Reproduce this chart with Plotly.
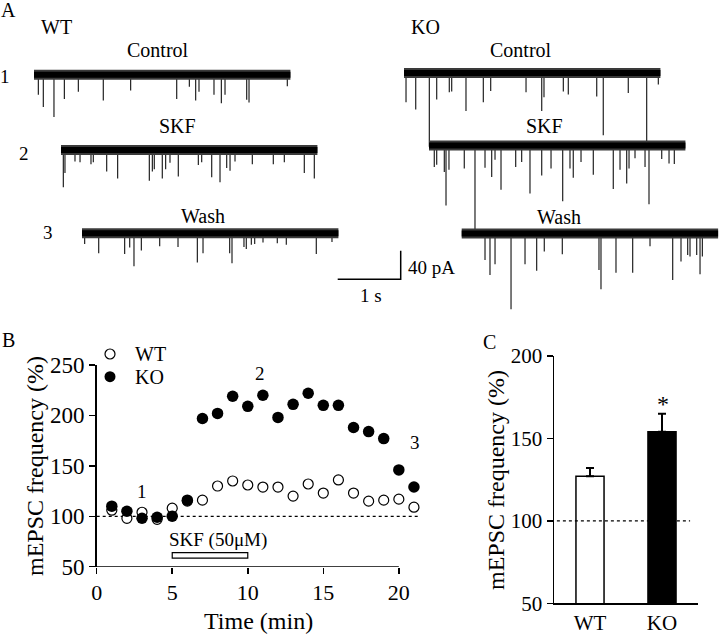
import plotly.graph_objects as go

W, H = 720, 635
FONT = "Liberation Serif"

# ---------------- Panel B data (time course, % of baseline) ----------------
time_min = list(range(1, 22))
wt_freq = [106, 98, 104, 97, 108, 115, 116, 130, 135, 131, 129, 129, 120, 132,
           123, 136, 123, 115, 116, 117, 109]
ko_freq = [110, 105, 98, 99, 100, 116, 197, 202, 219, 209, 220, 198, 211, 222,
           210, 210, 188, 184, 177, 146, 129]
x_ticks_b = [0, 5, 10, 15, 20]
y_ticks_b = [50, 100, 150, 200, 250]
skf_start, skf_end = 5, 10

# ---------------- Panel C data (summary bars) ----------------
groups = ["WT", "KO"]
group_mean = [127, 154]
group_sem = [5, 11]
y_ticks_c = [50, 100, 150, 200]

# ---------------- Panel A data (mEPSC events: time in s from trace start, amplitude in pA) ----
trace_duration = 4.07
wt_control_t = [0.069, 0.148, 0.317, 0.482, 0.704, 1.10, 1.534, 2.265, 2.466, 2.566, 2.619,
                2.857, 2.974, 3.032, 3.376, 3.413, 4.021]
wt_control_amp = [28, 45, 59, 34, 24, 36, 22, 34, 17, 36, 24, 28, 40, 28, 35, 39, 16]
wt_skf_t = [0.037, 0.063, 0.222, 0.302, 0.476, 0.513, 0.725, 0.899, 1.402, 1.45, 1.481, 1.608,
            1.661, 1.73, 1.862, 2.18, 2.233, 2.392, 2.524, 2.63, 2.683, 2.762, 3.037, 3.37,
            3.545, 3.862, 4.021]
wt_skf_amp = [52, 32, 16, 17, 20, 17, 30, 40, 43, 30, 27, 40, 27, 18, 37, 21, 17, 38, 45, 25,
              29, 16, 20, 20, 17, 32, 40]
wt_wash_t = [0.042, 0.265, 0.677, 0.757, 0.825, 0.942, 1.233, 1.524, 1.831, 1.921, 2.344,
             2.381, 2.571, 2.608, 2.688, 2.741, 2.873, 3.10, 3.243, 3.719, 3.968]
wt_wash_amp = [15, 28, 29, 20, 46, 24, 18, 19, 41, 28, 28, 42, 19, 22, 16, 15, 13, 14, 16, 29, 12]
ko_control_t = [0.032, 0.186, 0.402, 0.519, 0.719, 0.757, 0.984, 1.259, 1.376, 1.937, 2.186,
                2.222, 2.529, 2.608, 3.059, 3.163, 3.56, 3.852, 4.037]
ko_control_amp = [41, 51, 103, 37, 27, 26, 53, 41, 25, 27, 53, 34, 26, 30, 33, 87, 28, 96, 16]
ko_skf_t = [0.084, 0.122, 0.243, 0.27, 0.317, 0.56, 0.73, 0.889, 0.995, 1.048, 1.143, 1.376,
            1.471, 1.603, 1.789, 1.937, 2.122, 2.238, 2.29, 2.413, 2.608, 2.925, 3.032, 3.138,
            3.175, 3.27, 3.429, 3.492, 3.694, 3.81, 3.894]
ko_skf_amp = [30, 27, 37, 84, 34, 32, 121, 31, 44, 20, 62, 30, 23, 67, 42, 32, 78, 32, 45, 23,
              41, 61, 34, 53, 32, 18, 30, 82, 19, 25, 26]
ko_wash_t = [0.37, 0.449, 0.529, 0.783, 1.005, 1.19, 1.311, 1.597, 2.179, 2.211, 2.449, 2.714,
             2.989, 3.349, 3.481, 3.587, 3.624, 3.73, 3.783, 3.82]
ko_wash_amp = [37, 58, 43, 106, 43, 52, 25, 29, 51, 78, 55, 55, 18, 65, 39, 30, 32, 30, 57, 32]
scale_time_s = 1.0
scale_current_pa = 40.0

# ---------------- layout helpers (pixel geometry) ----------------
def px(x):
    return x / W

def py(y):
    return 1 - y / H

PX_PER_S = 63.0
PX_PER_PA = 0.715
A_HEIGHT = 320

def a_x(xpix):
    return xpix / PX_PER_S

def a_y(ypix):
    return -ypix / PX_PER_PA

# trace origins (pixel positions) -> converted to axis units
trace_specs = [
    (wt_control_t, wt_control_amp, 34, 74.7),
    (wt_skf_t, wt_skf_amp, 61, 150.0),
    (wt_wash_t, wt_wash_amp, 82, 233.3),
    (ko_control_t, ko_control_amp, 404, 73.0),
    (ko_skf_t, ko_skf_amp, 429, 145.5),
    (ko_wash_t, ko_wash_amp, 461.7, 233.5),
]

fig = go.Figure()

for t_list, amp_list, x0p, y0p in trace_specs:
    x0, y0 = a_x(x0p), a_y(y0p)
    xs, ys = [], []
    for t, a in zip(t_list, amp_list):
        xs += [x0 + t, x0 + t, None]
        ys += [y0, y0 - a, None]
    fig.add_trace(go.Scatter(x=xs, y=ys, mode="lines", line=dict(color="#222222", width=1.2),
                             xaxis="x", yaxis="y", showlegend=False, hoverinfo="skip"))
    fig.add_trace(go.Scatter(x=[x0, x0 + trace_duration], y=[y0, y0], mode="lines",
                             line=dict(color="#3a3a3a", width=10), xaxis="x", yaxis="y",
                             showlegend=False, hoverinfo="skip"))
    fig.add_trace(go.Scatter(x=[x0, x0 + trace_duration], y=[y0, y0], mode="lines",
                             line=dict(color="black", width=6), xaxis="x", yaxis="y",
                             showlegend=False, hoverinfo="skip"))

# scale bar
sb_x = a_x(400.7)
sb_y = a_y(279.3)
fig.add_trace(go.Scatter(x=[sb_x - scale_time_s, sb_x, sb_x],
                         y=[sb_y, sb_y, sb_y + scale_current_pa],
                         mode="lines", line=dict(color="black", width=1.5),
                         xaxis="x", yaxis="y", showlegend=False, hoverinfo="skip"))

# ---------------- Panel B ----------------
fig.add_trace(go.Scatter(x=time_min, y=wt_freq, mode="markers", xaxis="x2", yaxis="y2",
                         marker=dict(symbol="circle", size=10, color="white",
                                     line=dict(color="black", width=1.2)),
                         showlegend=False, cliponaxis=False))
fig.add_trace(go.Scatter(x=time_min, y=ko_freq, mode="markers", xaxis="x2", yaxis="y2",
                         marker=dict(symbol="circle", size=11.5, color="black",
                                     line=dict(width=0)),
                         showlegend=False, cliponaxis=False))

# ---------------- Panel C ----------------
fig.add_trace(go.Bar(x=[0, 1], y=group_mean, xaxis="x3", yaxis="y3", width=0.39,
                     base=0,
                     marker=dict(color=["white", "black"], line=dict(color="black", width=1.5)),
                     error_y=dict(type="data", array=group_sem, arrayminus=[0, 0],
                                  symmetric=False, color="black", thickness=2, width=4),
                     showlegend=False))

shapes = []
# Panel B x-axis line (0 to 20), dotted baseline, SKF bar
shapes.append(dict(type="line", xref="x2", yref="y2", x0=0, x1=20, y0=50, y1=50,
                   line=dict(color="black", width=1.5)))
shapes.append(dict(type="line", xref="x2", yref="y2", x0=0, x1=21.4, y0=100, y1=100,
                   line=dict(color="black", width=1.3, dash="dot"), layer="below"))
shapes.append(dict(type="rect", xref="x2", yref="y2", x0=skf_start, x1=skf_end, y0=58.5, y1=64,
                   line=dict(color="black", width=1.2), fillcolor="white"))
# Panel C dotted baseline
shapes.append(dict(type="line", xref="x3", yref="y3", x0=-0.46, x1=1.39, y0=100, y1=100,
                   line=dict(color="black", width=1.3, dash="dot"), layer="above"))
# legend symbols panel B
for cy, filled in [(354, False), (376.7, True)]:
    r = 5.5 if filled else 5
    shapes.append(dict(type="circle", xref="paper", yref="paper",
                       x0=px(110 - r), x1=px(110 + r), y0=py(cy + r), y1=py(cy - r),
                       fillcolor="black" if filled else "white",
                       line=dict(color="black", width=0 if filled else 1.2)))

ann = []

def text(x, y, s, size=20, xanchor="center", angle=0):
    ann.append(dict(x=px(x), y=py(y), xref="paper", yref="paper", text=s, showarrow=False,
                    xanchor=xanchor, yanchor="middle", textangle=angle,
                    font=dict(family=FONT, size=size, color="black")))

# panel letters
text(8, 10, "A", 20)
text(8, 340, "B", 20)
text(489, 342, "C", 20)
# panel A labels
text(56, 27, "WT", 20)
text(425, 27, "KO", 20)
text(158, 50, "Control", 20)
text(521, 50, "Control", 20)
text(177.5, 126, "SKF", 20)
text(544.5, 126, "SKF", 20)
text(203, 216, "Wash", 20)
text(559, 217, "Wash", 20)
text(5, 76, "1", 19)
text(24, 154, "2", 19)
text(48, 233, "3", 19)
text(406, 267, "40 pA", 19, xanchor="left")
text(371, 295, "1 s", 19)
# panel B labels
text(133, 354, "WT", 20, xanchor="left")
text(133, 377, "KO", 20, xanchor="left")
text(141.7, 491.7, "1", 19)
text(259.5, 373, "2", 19)
text(415, 442, "3", 19)
text(218, 540, "SKF (50μM)", 19)
text(258, 621, "Time (min)", 24)
text(35, 466, "mEPSC frequency (%)", 24, angle=-90)
# panel C labels
text(496, 480, "mEPSC frequency (%)", 24, angle=-90)
text(662.5, 404, "*", 24)

axis_common = dict(showgrid=False, zeroline=False, color="black", automargin=False)

def tf(size):
    return dict(family=FONT, size=size, color="black")

fig.update_layout(
    template="none",
    width=W, height=H, margin=dict(l=0, r=0, t=0, b=0, pad=0), autosize=False,
    paper_bgcolor="white", plot_bgcolor="rgba(0,0,0,0)",
    showlegend=False,
    xaxis=dict(domain=[0, 1], range=[0, W / PX_PER_S], visible=False, fixedrange=True,
               automargin=False),
    yaxis=dict(domain=[1 - A_HEIGHT / H, 1], range=[a_y(A_HEIGHT), 0], visible=False,
               fixedrange=True, automargin=False),
    xaxis2=dict(domain=[px(96.7), px(96.7 + 21.6 * 15.107)], range=[0, 21.6], anchor="y2",
                showline=False, ticks="outside", ticklen=6, tickwidth=1.5, tickcolor="black",
                tickvals=x_ticks_b, tickfont=tf(22), **axis_common),
    yaxis2=dict(domain=[py(566.7), py(365)], range=[50, 250], anchor="x2",
                showline=True, linewidth=1.5, linecolor="black", ticks="outside", ticklen=6,
                tickwidth=1.5, tickcolor="black", tickvals=y_ticks_b, tickfont=tf(23),
                **axis_common),
    xaxis3=dict(domain=[px(554), px(698)], range=[-0.5, 1.5], anchor="y3",
                showline=True, linewidth=1.5, linecolor="black", ticks="",
                tickvals=[0, 1], ticktext=groups, ticklabelstandoff=0, tickfont=tf(21),
                **axis_common),
    yaxis3=dict(domain=[py(603.3), py(356)], range=[50, 200], anchor="x3",
                showline=True, linewidth=1.5, linecolor="black", ticks="outside", ticklen=6,
                tickwidth=1.5, tickcolor="black", tickvals=y_ticks_c, tickfont=tf(21),
                **axis_common),
    shapes=shapes,
    annotations=ann,
)

fig.write_html("out.html", config={"staticPlot": True},
               post_script="document.body.style.margin='0px';document.body.style.padding='0px';")
